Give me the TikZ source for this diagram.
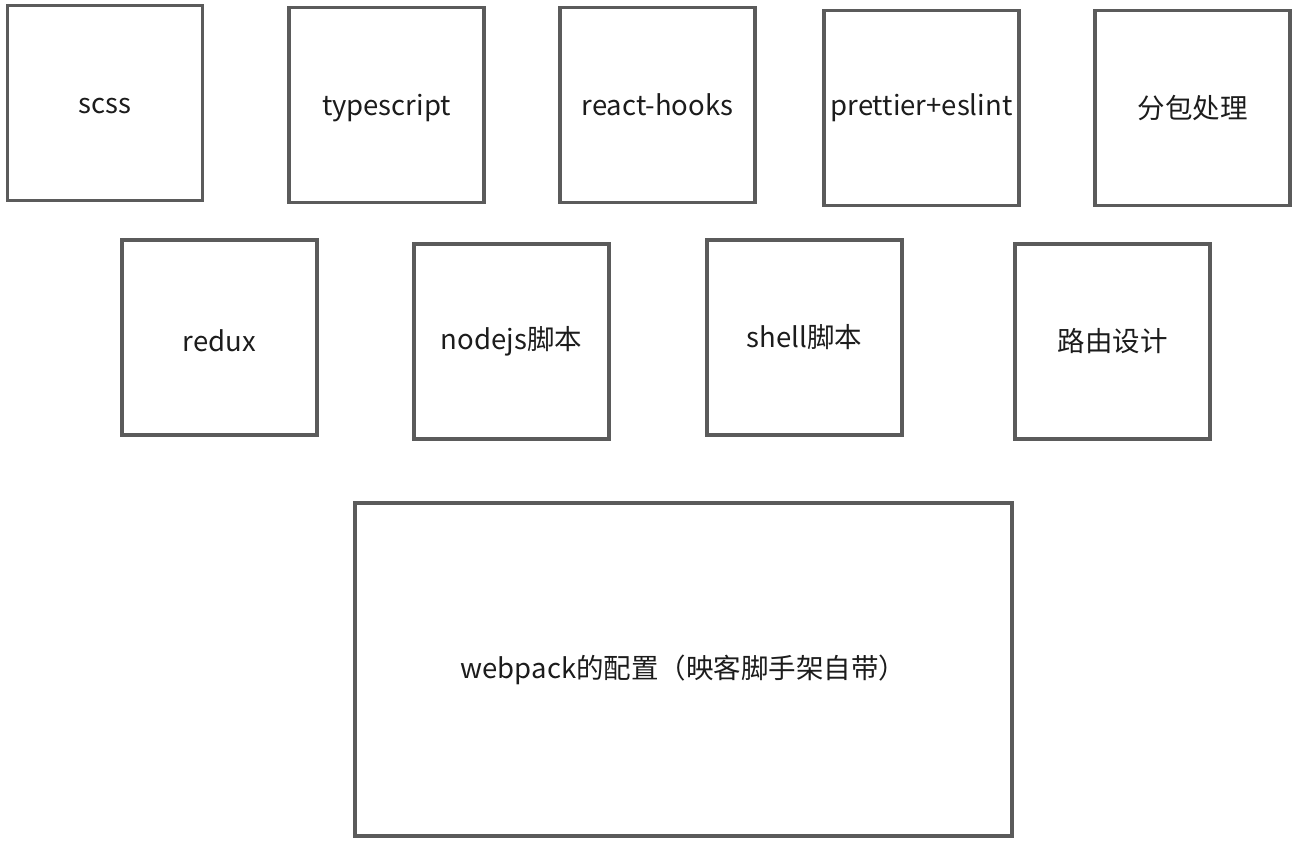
\documentclass[tikz,border=0pt]{standalone}
\usepackage{fontspec}
\setmainfont{Noto Sans CJK SC}
\usepackage{tikz}
\usetikzlibrary{positioning}
\definecolor{boxline}{HTML}{5B5B5B}
\definecolor{boxtext}{HTML}{1C1C1C}
\newcommand{\lowered}[1]{\raisebox{-3pt}[\height][\depth]{#1}}
\tikzset{
    block/.style={rectangle, draw=boxline, line width=3.5pt, fill=white, text=boxtext, align=center, minimum width=195pt, minimum height=195pt, inner sep=0pt, font=\fontsize{27.5}{32}\selectfont},
    bigblock/.style={block, minimum width=657pt, minimum height=333pt}
}
\begin{document}
\begin{tikzpicture}[x=1pt, y=-1pt]
            \useasboundingbox[fill=white] (0,0) rectangle (1302,842);

            \node[block] (scss) at (105,103) {\lowered{scss}};
            \node[block] (typescript) at (386.5,105) {\lowered{typescript}};
            \node[block] (hooks) at (657.5,105) {react-hooks};
            \node[block] (lint) at (921.5,108) {prettier+eslint};
            \node[block] (split) at (1192.5,108) {分包处理};

            \node[block] (redux) at (219.5,337.5) {\lowered{redux}};
            \node[block] (nodejs) at (511.5,341.5) {nodejs脚本};
            \node[block] (shell) at (804.5,337.5) {shell脚本};
            \node[block] (router) at (1112.5,341.5) {路由设计};

            \node[bigblock] (webpack) at (683.5,669.5) {webpack的配置（映客脚手架自带）};
        \end{tikzpicture}
\end{document}
